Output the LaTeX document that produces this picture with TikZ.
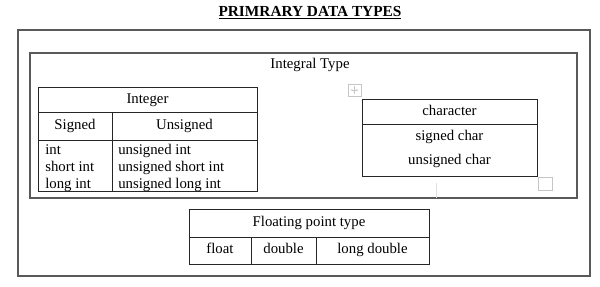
\documentclass[tikz,border=0pt]{standalone}
\usepackage{fontspec}
\setmainfont{Liberation Serif}
\usepackage{tikz}
\usetikzlibrary{arrows.meta,positioning}

\begin{document}
\begin{tikzpicture}[x=0.75pt,y=-0.75pt,
  cell/.style={font=\fontsize{11.1}{12}\selectfont,anchor=base,inner sep=0pt},
  grid/.style={black!85,line width=0.6pt},
  frame/.style={black!65,line width=0.8pt},
  handle/.style={gray!45,line width=0.4pt}]
\useasboundingbox (0,0) rectangle (600,286);

% ---------------- title and frames ----------------
\node[font=\bfseries\fontsize{11.5}{13}\selectfont] (title) at (310,13)
     {\underline{PRIMRARY DATA TYPES}};
\draw[frame] (18,30) rectangle (590,276);
\draw[frame] (30,53) rectangle (577,198);
\node[cell] (integral) at (310,68) {Integral Type};

% ---------------- Integer table ----------------
\draw[grid] (38,87) rectangle (257,191);
\draw[grid] (38,112) -- (257,112) (38,140) -- (257,140) (112,112) -- (112,191);
\node[cell] (integer)  at (147.5,103) {Integer};
\node[cell] (signed)   at (75,129)    {Signed};
\node[cell] (unsigned) at (184.5,129) {Unsigned};
\foreach \y/\s/\u/\n in {154/int/unsigned int/a,
                         171/short int/unsigned short int/b,
                         188/long int/unsigned long int/c}{
  \node[cell,anchor=base west] (s\n) at (45,\y)  {\s};
  \node[cell,anchor=base west] (u\n) at (118,\y) {\u};
}

% ---------------- character table ----------------
\draw[grid] (362,99) rectangle (537,176);
\draw[grid] (362,124) -- (537,124);
\node[cell] (character) at (449.5,115) {character};
\node[cell] (schar)     at (449.5,140) {signed char};
\node[cell] (uchar)     at (449.5,164) {unsigned char};

% table handles
\draw[handle] (348,84) rectangle (361,96);
\draw[handle,-{Stealth[length=1.5pt]}] (354.5,90) -- (354.5,86);
\draw[handle,-{Stealth[length=1.5pt]}] (354.5,90) -- (354.5,94);
\draw[handle,-{Stealth[length=1.5pt]}] (354.5,90) -- (350.5,90);
\draw[handle,-{Stealth[length=1.5pt]}] (354.5,90) -- (358.5,90);
\draw[handle] (538,177) rectangle (552,190);
\draw[gray!25,line width=0.4pt] (436,183) -- (436,198);

% ---------------- Floating point table ----------------
\draw[grid] (189,209) rectangle (429,264);
\draw[grid] (189,237) -- (429,237) (251,237) -- (251,264) (316,237) -- (316,264);
\node[cell] (floating) at (309,226)   {Floating point type};
\node[cell] (float)    at (220,253)   {float};
\node[cell] (double)   at (283.5,253) {double};
\node[cell] (ldouble)  at (372.5,253) {long double};

\end{tikzpicture}
\end{document}
